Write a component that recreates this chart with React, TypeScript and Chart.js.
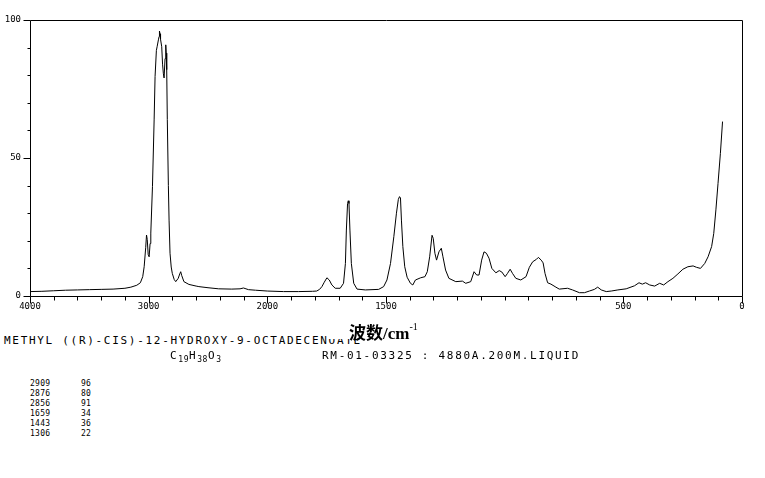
import React, { useEffect, useRef } from 'react';
import { Chart, registerables } from 'chart.js';

Chart.register(...registerables);

// Raman spectrum: wavenumber (cm-1) and relative intensity
const wavenumbers = [
  4000, 3900, 3800, 3700, 3600, 3500, 3400, 3300, 3200, 3150, 3100, 3070, 3050, 3038, 3025, 3018, 3012, 3004, 2996, 2988,
  2982, 2968, 2954, 2946, 2935, 2928, 2918, 2912, 2909, 2904, 2900, 2890, 2883, 2876, 2870, 2862, 2856, 2852, 2848, 2843,
  2834, 2828, 2820, 2810, 2801, 2785, 2772, 2751, 2738, 2730, 2722, 2703, 2661, 2600, 2577, 2500, 2410, 2300, 2230, 2201,
  2180, 2159, 2100, 2000, 1932, 1869, 1810, 1792, 1780, 1770, 1760, 1749, 1739, 1728, 1714, 1693, 1679, 1671, 1667, 1662,
  1659, 1656, 1652, 1646, 1636, 1622, 1587, 1531, 1510, 1496, 1481, 1467, 1456, 1448, 1443, 1439, 1435, 1429, 1421, 1411,
  1397, 1387, 1376, 1354, 1336, 1326, 1316, 1306, 1301, 1294, 1287, 1277, 1267, 1260, 1249, 1235, 1206, 1178, 1164, 1143,
  1129, 1118, 1108, 1097, 1087, 1077, 1066, 1054, 1037, 1023, 1012, 998, 988, 977, 967, 953, 932, 910, 896, 882,
  866, 858, 846, 838, 830, 819, 805, 784, 770, 735, 714, 685, 664, 643, 622, 608, 593, 572, 551, 523,
  488, 453, 434, 420, 406, 389, 368, 347, 330, 312, 291, 270, 249, 228, 206, 192, 175, 157, 143, 128,
  119, 110, 101, 91, 82,
];
const intensities = [
  1.6, 1.7, 1.9, 2.1, 2.2, 2.3, 2.4, 2.5, 2.8, 3.2, 3.9, 4.8, 7, 10.6, 17.5, 22.1, 20.5, 15, 14.2, 19,
  22.8, 39.6, 63.8, 79.5, 89, 90.5, 92.8, 94, 96, 95, 93, 90.3, 84, 80.5, 79, 86, 91, 88, 82, 64,
  40, 27.5, 15.5, 10.5, 8.2, 6, 5.2, 6.4, 8, 8.8, 7.5, 5.2, 4.2, 3.6, 3.4, 3, 2.6, 2.5, 2.6, 2.9,
  2.6, 2.3, 2.1, 1.8, 1.6, 1.6, 1.7, 1.8, 2.4, 3.4, 5, 6.6, 5.8, 4, 2.8, 2.8, 4.6, 11.8, 23.9, 33.5,
  34.5, 33.5, 23.9, 11.8, 4.6, 2.5, 2.2, 2.4, 3.4, 5.8, 11.8, 21.5, 30, 35, 36, 35.5, 27.5, 17.9, 10.6, 6.8,
  4.6, 4, 5.8, 6.6, 7, 8.8, 14.2, 22, 20.9, 15.5, 13, 16, 17.3, 14.2, 9.4, 6.4, 5.2, 5.4, 4.6, 5.2,
  8.8, 7.6, 7.6, 13, 16, 15.5, 13.7, 10, 8.4, 9.2, 8.7, 7, 8.2, 9.7, 8.2, 6.4, 5.8, 7, 10.4, 12.4,
  13.3, 14, 13, 12, 8.2, 4.8, 4.3, 3.2, 2.5, 2.8, 2.2, 1.2, 1.2, 1.8, 2.4, 3.2, 2.2, 1.6, 1.8, 2.2,
  2.6, 3.7, 4.8, 4.3, 4.8, 4, 3.6, 4.6, 4, 5.2, 6.4, 8, 9.7, 10.6, 10.9, 10.4, 10, 11.8, 14.2, 17.9,
  22.7, 31.2, 40.8, 51.7, 63.2,
];

const xTickLabels = [4000, 3000, 2000, 1500, 500, 0];
const yTickLabels = [0, 50, 100];

const peakWavenumbers = [2909, 2876, 2856, 1659, 1443, 1306];
const peakIntensities = [96, 80, 91, 34, 36, 22];

const compoundName = 'METHYL ((R)-CIS)-12-HYDROXY-9-OCTADECENOATE';
const sampleInfo = 'RM-01-03325 : 4880A.200M.LIQUID';
const axisTitleCJK = '波数';
const axisTitleUnit = '/cm';
const axisTitleSup = '-1';

// split-scale axis: 4000-2000 compressed to half of the 2000-0 scale
const toU = (wn: number) => (wn >= 2000 ? (4000 - wn) / 2 : 1000 + (2000 - wn));
const fromU = (u: number) => (u <= 1000 ? 4000 - 2 * u : 2000 - (u - 1000));

const framePlugin = {
  id: 'framePlugin',
  afterDraw(chart: any) {
    const { ctx, chartArea: a, scales } = chart;
    ctx.save();
    ctx.strokeStyle = '#000';
    ctx.lineWidth = 1;
    const L = Math.round(a.left) + 0.5;
    const R = Math.round(a.right) + 0.5;
    const T = Math.round(a.top) + 0.5;
    const B = Math.round(a.bottom) + 0.5;
    ctx.beginPath();
    ctx.rect(L, T, R - L, B - T);
    scales.x.ticks.forEach((t: any) => {
      const px = Math.round(scales.x.getPixelForValue(t.value)) + 0.5;
      const major = t.label !== '' && t.label != null;
      ctx.moveTo(px, B);
      ctx.lineTo(px, B + (major ? 7 : 4));
    });
    scales.y.ticks.forEach((t: any) => {
      const py = Math.round(scales.y.getPixelForValue(t.value)) + 0.5;
      const major = t.label !== '' && t.label != null;
      ctx.moveTo(L, py);
      ctx.lineTo(L - (major ? 7 : 3), py);
    });
    ctx.stroke();
    ctx.restore();
  },
};

export default function App() {
  const canvasRef = useRef<HTMLCanvasElement>(null);

  useEffect(() => {
    if (!canvasRef.current) return;
    const points = wavenumbers.map((wn, i) => ({ x: toU(wn), y: intensities[i] }));
    const tickFont = { family: 'DejaVu Sans Mono', size: 9 };
    const chart = new Chart(canvasRef.current, {
      type: 'line',
      data: {
        datasets: [
          {
            data: points,
            borderColor: '#000',
            borderWidth: 1,
            pointRadius: 0,
            tension: 0,
            fill: false,
          },
        ],
      },
      options: {
        responsive: false,
        animation: false,
        layout: { padding: { top: 20, right: 23, left: 0, bottom: 0 } },
        plugins: { legend: { display: false }, tooltip: { enabled: false } },
        scales: {
          x: {
            type: 'linear',
            min: 0,
            max: 3000,
            grid: { display: false, drawTicks: false },
            border: { display: false },
            ticks: {
              stepSize: 100,
              autoSkip: false,
              maxRotation: 0,
              padding: 5,
              color: '#000',
              font: tickFont,
              callback: (v: any) => {
                const wn = Math.round(fromU(Number(v)));
                return xTickLabels.includes(wn) ? String(wn) : '';
              },
            },
            afterFit: (s: any) => {
              s.height = 24;
            },
          },
          y: {
            type: 'linear',
            min: 0,
            max: 100,
            grid: { display: false, drawTicks: false },
            border: { display: false },
            ticks: {
              stepSize: 10,
              autoSkip: false,
              padding: 9,
              color: '#000',
              font: tickFont,
              callback: (v: any) => (yTickLabels.includes(Number(v)) ? String(v) : ''),
            },
            afterFit: (s: any) => {
              s.width = 30;
            },
          },
        },
      },
      plugins: [framePlugin],
    } as any);
    return () => chart.destroy();
  }, []);

  const mono: React.CSSProperties = {
    position: 'absolute',
    fontFamily: '"DejaVu Sans Mono", monospace',
    fontSize: 11,
    lineHeight: '11px',
    letterSpacing: '1.7px',
    color: '#000',
    whiteSpace: 'pre',
  };
  const small: React.CSSProperties = {
    position: 'absolute',
    fontFamily: '"DejaVu Sans Mono", monospace',
    fontSize: 8,
    lineHeight: '8px',
    letterSpacing: '0.3px',
    color: '#000',
    whiteSpace: 'pre',
  };
  const sub: React.CSSProperties = { fontSize: 8, letterSpacing: '0.5px', verticalAlign: '-3px' };

  return (
    <div style={{ position: 'fixed', left: 0, top: 0, width: 765, height: 478, background: '#fff', overflow: 'hidden' }}>
      <canvas ref={canvasRef} width={765} height={320} style={{ position: 'absolute', left: 0, top: 0, display: 'block' }} />
      <div style={{ ...mono, left: 4, top: 335 }}>{compoundName}</div>
      <div
        style={{
          position: 'absolute',
          left: 328,
          top: 314,
          height: 25,
          paddingLeft: 21,
          paddingRight: 4,
          background: '#fff',
          color: '#000',
          whiteSpace: 'pre',
          lineHeight: '25px',
        }}
      >
        <span style={{ fontFamily: '"Noto Sans CJK SC"', fontSize: 17, fontWeight: 700 }}>{axisTitleCJK}</span>
        <span style={{ fontFamily: '"Liberation Serif"', fontSize: 17, fontWeight: 700 }}>{axisTitleUnit}</span>
        <span style={{ fontFamily: '"Liberation Serif"', fontSize: 10, verticalAlign: '9px' }}>{axisTitleSup}</span>
      </div>
      <div style={{ ...mono, left: 170, top: 350 }}>
        C<span style={sub}>19</span>H<span style={sub}>38</span>O<span style={sub}>3</span>
      </div>
      <div style={{ ...mono, left: 322, top: 350 }}>{sampleInfo}</div>
      {peakWavenumbers.map((wn, i) => (
        <React.Fragment key={wn}>
          <div style={{ ...small, left: 30, top: 380 + i * 10 }}>{String(wn)}</div>
          <div style={{ ...small, left: 81, top: 380 + i * 10 }}>{String(peakIntensities[i])}</div>
        </React.Fragment>
      ))}
    </div>
  );
}
